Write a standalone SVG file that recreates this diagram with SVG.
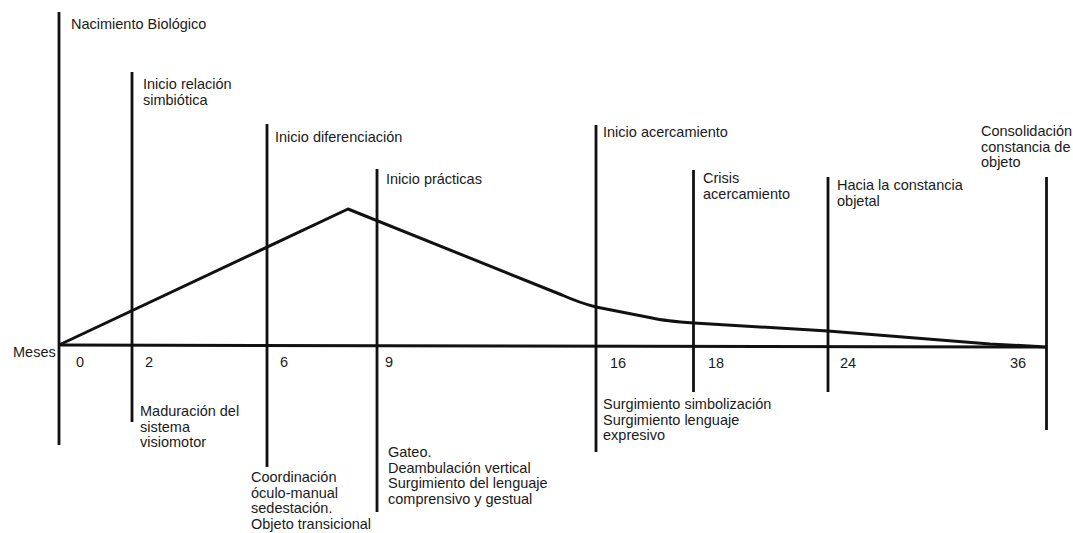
<svg xmlns="http://www.w3.org/2000/svg" width="1073" height="533" viewBox="0 0 1073 533">
<style>
text{font-family:"Liberation Sans",Arial,sans-serif;font-size:14.5px;fill:#1a1a1a}
.v{stroke:#111;stroke-width:2.8;fill:none}
.c{stroke:#111;stroke-width:3;fill:none;stroke-linejoin:round}
</style>
<rect width="1073" height="533" fill="#fff"/>
<g id="connectors">
<path class="c" d="M59,345 L1047,347"/>
<path class="c" d="M59,345 L348,209 L562,295 Q580,303 596,307 L652,318 Q665,321 694,323 L828,331 L990,344 L1047,347"/>
</g>
<text x="13" y="357" font-size="14">Meses</text>
<g id="m0">
<line class="v" x1="59" y1="12" x2="59" y2="445"/>
<text x="71" y="29">Nacimiento Biológico</text>
<text x="76" y="367">0</text>
</g>
<g id="m2">
<line class="v" x1="132" y1="72" x2="132" y2="422"/>
<text x="143" y="89">Inicio relación</text>
<text x="143" y="105">simbiótica</text>
<text x="145" y="367">2</text>
<text x="140" y="416">Maduración del</text>
<text x="140" y="431.5">sistema</text>
<text x="140" y="447">visiomotor</text>
</g>
<g id="m6">
<line class="v" x1="267" y1="124" x2="267" y2="467"/>
<text x="275" y="142">Inicio diferenciación</text>
<text x="280" y="367">6</text>
<text x="251" y="482">Coordinación</text>
<text x="251" y="497.5">óculo-manual</text>
<text x="251" y="513">sedestación.</text>
<text x="251" y="528.5">Objeto transicional</text>
</g>
<g id="m9">
<line class="v" x1="377" y1="169" x2="377" y2="512"/>
<text x="386" y="184">Inicio prácticas</text>
<text x="385" y="367">9</text>
<text x="388" y="457">Gateo.</text>
<text x="388" y="472.7">Deambulación vertical</text>
<text x="388" y="488.4">Surgimiento del lenguaje</text>
<text x="388" y="504">comprensivo y gestual</text>
</g>
<g id="m16">
<line class="v" x1="596" y1="125" x2="596" y2="452"/>
<text x="603" y="137">Inicio acercamiento</text>
<text x="610" y="368">16</text>
<text x="603" y="408.5">Surgimiento simbolización</text>
<text x="603" y="424.5">Surgimiento lenguaje</text>
<text x="603" y="440">expresivo</text>
</g>
<g id="m18">
<line class="v" x1="693.5" y1="170" x2="693.5" y2="392"/>
<text x="703" y="182.5">Crisis</text>
<text x="703" y="199">acercamiento</text>
<text x="708" y="368">18</text>
</g>
<g id="m24">
<line class="v" x1="828" y1="177" x2="828" y2="392"/>
<text x="837" y="190">Hacia la constancia</text>
<text x="837" y="206">objetal</text>
<text x="840" y="368">24</text>
</g>
<g id="m36">
<line class="v" x1="1046.5" y1="177" x2="1046.5" y2="430"/>
<text x="981" y="136">Consolidación</text>
<text x="981" y="152">constancia de</text>
<text x="981" y="167">objeto</text>
<text x="1010" y="368">36</text>
</g>
</svg>
